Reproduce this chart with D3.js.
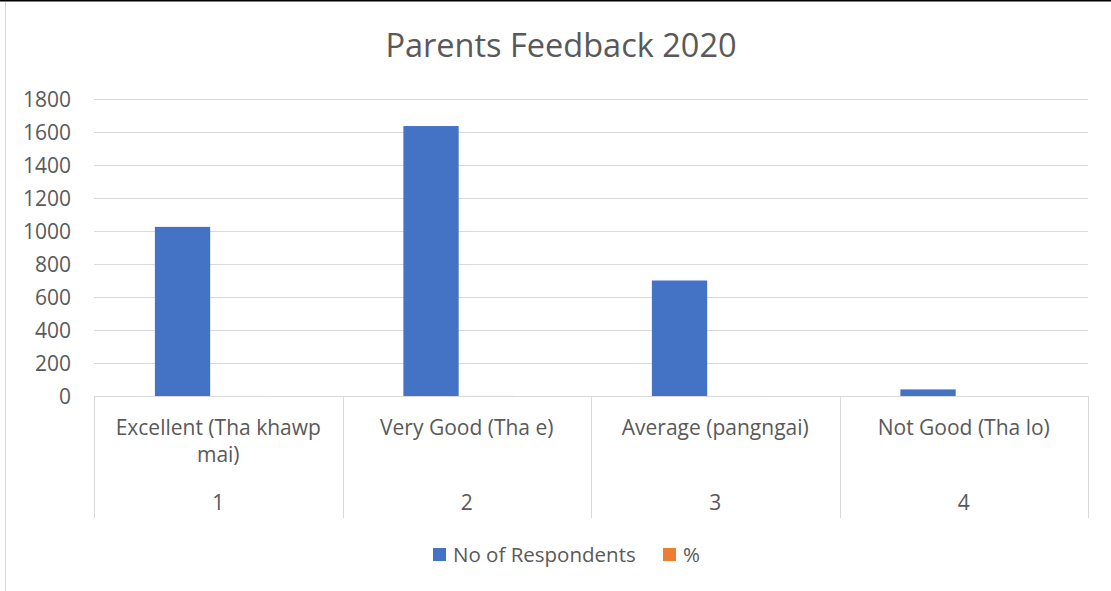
<!DOCTYPE html>
<html>
<head>
<meta charset="utf-8">
<script src="https://cdn.jsdelivr.net/npm/d3@7"></script>
<style>
  html, body { margin: 0; padding: 0; background: #fff; }
  svg { display: block; }
  text { font-family: "Open Sans", "Noto Sans", sans-serif; fill: #595959; }
</style>
</head>
<body>
<svg id="chart" width="1111" height="591"></svg>
<script>
// Survey results
const categories = ["Excellent (Tha khawp mai)", "Very Good (Tha e)", "Average (pangngai)", "Not Good (Tha lo)"];
const categoryNumbers = ["1", "2", "3", "4"];
const seriesNames = ["No of Respondents", "%"];
const respondents = [1025, 1636, 700, 40];
const percentShare = [0.30, 0.48, 0.21, 0.01];
const yTicks = [0, 200, 400, 600, 800, 1000, 1200, 1400, 1600, 1800];
const colors = ["#4472C4", "#ED7D31"];

const svg = d3.select("#chart");
const W = 1111, H = 591;
const plot = { left: 94, right: 1088, top: 99, bottom: 396 };
const labelSize = "21px";

// Frame
svg.append("line").attr("x1", 0).attr("x2", W).attr("y1", 0.75).attr("y2", 0.75)
  .attr("stroke", "#000").attr("stroke-width", 1.5);
svg.append("line").attr("x1", 5.5).attr("x2", 5.5).attr("y1", 2).attr("y2", H)
  .attr("stroke", "#d9d9d9").attr("stroke-width", 1);

// Title
svg.append("text").attr("x", 561).attr("y", 57).attr("text-anchor", "middle")
  .style("font-size", "32.5px").text("Parents Feedback 2020");

// Scales
const y = d3.scaleLinear().domain([0, 1800]).range([plot.bottom, plot.top]);
const x0 = d3.scaleBand().domain(d3.range(categories.length)).range([plot.left, plot.right]).padding(0);
const bw = x0.bandwidth();
const x1 = d3.scaleBand().domain(seriesNames).range([bw * 0.245, bw * 0.69]).padding(0);

// Gridlines
const grid = svg.append("g");
grid.selectAll("line").data(yTicks.filter(d => d > 0)).join("line")
  .attr("x1", plot.left).attr("x2", plot.right)
  .attr("y1", d => Math.round(y(d)) + 0.5).attr("y2", d => Math.round(y(d)) + 0.5)
  .attr("stroke", "#d9d9d9").attr("stroke-width", 1);

// Y axis labels
const yAxis = d3.axisLeft(y).tickValues(yTicks).tickFormat(d3.format("d")).tickSize(0).tickPadding(0);
const yg = svg.append("g").attr("transform", `translate(71,0)`).call(yAxis);
yg.select(".domain").remove();
yg.selectAll("text").style("font-size", labelSize).attr("fill", "#595959")
  .style("font-family", '"Open Sans", sans-serif').attr("dy", "0.35em");

// Bars
const rows = categories.map((c, i) => ({ i, values: [respondents[i], percentShare[i]] }));
const groups = svg.append("g").selectAll("g").data(rows).join("g")
  .attr("transform", d => `translate(${x0(d.i)},0)`);
groups.selectAll("rect").data(d => d.values.map((v, k) => ({ key: seriesNames[k], v, k })))
  .join("rect")
  .attr("x", d => x1(d.key))
  .attr("width", x1.bandwidth())
  .attr("y", d => y(d.v))
  .attr("height", d => y(0) - y(d.v))
  .attr("fill", d => colors[d.k]);

// Category axis (two levels)
const axisColor = "#d9d9d9";
const axisBottom = 518;
svg.append("line").attr("x1", plot.left).attr("x2", plot.right)
  .attr("y1", plot.bottom + 0.5).attr("y2", plot.bottom + 0.5)
  .attr("stroke", axisColor).attr("stroke-width", 1);
const seps = d3.range(categories.length + 1).map(i => i < categories.length ? x0(i) : plot.right);
svg.append("g").selectAll("line").data(seps).join("line")
  .attr("x1", d => Math.round(d) + 0.5).attr("x2", d => Math.round(d) + 0.5)
  .attr("y1", plot.bottom).attr("y2", axisBottom)
  .attr("stroke", axisColor).attr("stroke-width", 1);

function wrapText(textSel, width) {
  textSel.each(function () {
    const t = d3.select(this);
    const words = t.text().split(/\s+/);
    const xPos = t.attr("x");
    t.text(null);
    let line = [];
    let tspan = t.append("tspan").attr("x", xPos).attr("dy", 0);
    words.forEach(w => {
      line.push(w);
      tspan.text(line.join(" "));
      if (tspan.node().getComputedTextLength() > width && line.length > 1) {
        line.pop();
        tspan.text(line.join(" "));
        line = [w];
        tspan = t.append("tspan").attr("x", xPos).attr("dy", "27").text(w);
      }
    });
  });
}

svg.append("g").selectAll("text").data(categories).join("text")
  .attr("x", (d, i) => x0(i) + bw / 2)
  .attr("y", 435)
  .attr("text-anchor", "middle")
  .style("font-size", labelSize)
  .text(d => d)
  .call(wrapText, bw - 20);

svg.append("g").selectAll("text").data(categoryNumbers).join("text")
  .attr("x", (d, i) => x0(i) + bw / 2)
  .attr("y", 510)
  .attr("text-anchor", "middle")
  .style("font-size", labelSize)
  .text(d => d);

// Legend
const legend = svg.append("g");
const legendItems = [
  { name: seriesNames[0], color: colors[0], x: 433 },
  { name: seriesNames[1], color: colors[1], x: 663 }
];
const li = legend.selectAll("g").data(legendItems).join("g")
  .attr("transform", d => `translate(${d.x},548)`);
li.append("rect").attr("width", 13).attr("height", 13).attr("fill", d => d.color);
li.append("text").attr("x", 20).attr("y", 14).style("font-size", "20.5px").text(d => d.name);
</script>
</body>
</html>
